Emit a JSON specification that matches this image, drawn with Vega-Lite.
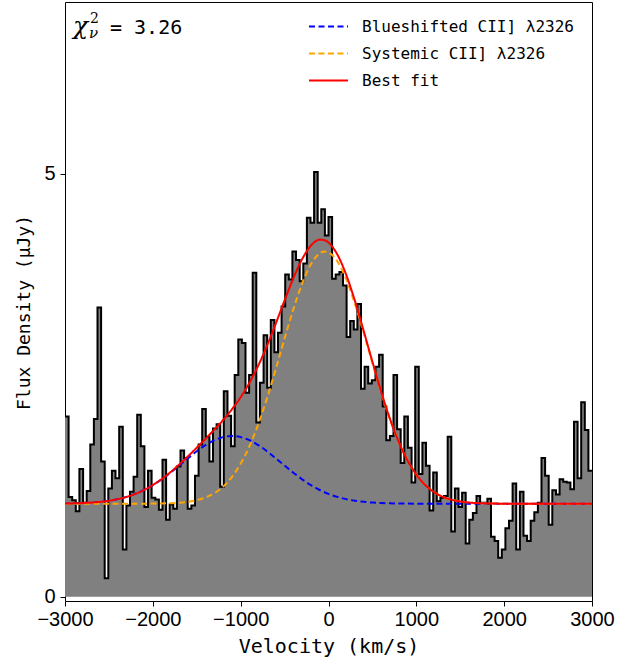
{
  "$schema": "https://vega.github.io/schema/vega-lite/v6.json",
  "width": 527,
  "height": 599,
  "autosize": {"type": "none"},
  "padding": {"left": 65, "top": 2, "right": 51, "bottom": 61},
  "background": "white",
  "config": {
    "view": {"stroke": "black", "strokeWidth": 1},
    "axis": {
      "domain": false, "grid": false, "tickColor": "black", "tickSize": 5, "tickWidth": 1,
      "labelColor": "black", "labelFont": "Liberation Sans", "labelFontSize": 20,
      "titleFont": "DejaVu Sans Mono", "titleFontSize": 20, "titleFontWeight": "normal", "titleColor": "black"
    }
  },
  "datasets": {
    "spec": [
      {"v": -3000, "f": 2.13}, {"v": -2959, "f": 1.18}, {"v": -2918, "f": 1.14}, {"v": -2877, "f": 1.01},
      {"v": -2836, "f": 1.51}, {"v": -2794, "f": 1.11}, {"v": -2753, "f": 1.25}, {"v": -2712, "f": 1.80},
      {"v": -2671, "f": 2.10}, {"v": -2630, "f": 3.42}, {"v": -2589, "f": 1.60}, {"v": -2548, "f": 0.22},
      {"v": -2507, "f": 1.28}, {"v": -2466, "f": 1.49}, {"v": -2425, "f": 1.40}, {"v": -2383, "f": 2.01},
      {"v": -2342, "f": 0.56}, {"v": -2301, "f": 1.08}, {"v": -2260, "f": 1.24}, {"v": -2219, "f": 1.42},
      {"v": -2178, "f": 2.15}, {"v": -2137, "f": 1.78}, {"v": -2096, "f": 1.06}, {"v": -2055, "f": 1.49},
      {"v": -2014, "f": 1.17}, {"v": -1972, "f": 1.15}, {"v": -1931, "f": 1.03}, {"v": -1890, "f": 1.62},
      {"v": -1849, "f": 0.91}, {"v": -1808, "f": 1.09}, {"v": -1767, "f": 1.04}, {"v": -1726, "f": 1.54},
      {"v": -1685, "f": 1.73}, {"v": -1644, "f": 1.64}, {"v": -1603, "f": 1.04}, {"v": -1561, "f": 1.08},
      {"v": -1520, "f": 1.43}, {"v": -1479, "f": 1.80}, {"v": -1438, "f": 2.22}, {"v": -1397, "f": 1.89},
      {"v": -1356, "f": 1.60}, {"v": -1315, "f": 1.99}, {"v": -1274, "f": 2.04}, {"v": -1233, "f": 1.30},
      {"v": -1192, "f": 2.43}, {"v": -1150, "f": 2.14}, {"v": -1109, "f": 1.78}, {"v": -1068, "f": 2.62},
      {"v": -1027, "f": 3.04}, {"v": -986, "f": 3.00}, {"v": -945, "f": 2.41}, {"v": -904, "f": 2.62},
      {"v": -863, "f": 3.83}, {"v": -822, "f": 2.06}, {"v": -781, "f": 2.53}, {"v": -739, "f": 3.09},
      {"v": -698, "f": 2.47}, {"v": -657, "f": 3.27}, {"v": -616, "f": 2.89}, {"v": -575, "f": 3.12},
      {"v": -534, "f": 3.43}, {"v": -493, "f": 3.81}, {"v": -452, "f": 3.75}, {"v": -411, "f": 4.08},
      {"v": -370, "f": 3.98}, {"v": -328, "f": 3.73}, {"v": -287, "f": 3.94}, {"v": -246, "f": 4.48},
      {"v": -205, "f": 4.42}, {"v": -164, "f": 5.02}, {"v": -123, "f": 4.42}, {"v": -82, "f": 4.58},
      {"v": -41, "f": 4.27}, {"v": 0, "f": 4.49}, {"v": 41, "f": 3.76}, {"v": 82, "f": 3.81},
      {"v": 124, "f": 3.84}, {"v": 165, "f": 3.68}, {"v": 206, "f": 3.07}, {"v": 247, "f": 3.26},
      {"v": 288, "f": 3.16}, {"v": 329, "f": 3.46}, {"v": 370, "f": 2.46}, {"v": 411, "f": 2.72},
      {"v": 452, "f": 2.52}, {"v": 493, "f": 2.56}, {"v": 535, "f": 2.72}, {"v": 576, "f": 2.86},
      {"v": 617, "f": 2.25}, {"v": 658, "f": 1.85}, {"v": 699, "f": 1.90}, {"v": 740, "f": 2.62},
      {"v": 781, "f": 1.98}, {"v": 822, "f": 1.58}, {"v": 863, "f": 2.13}, {"v": 904, "f": 1.76},
      {"v": 946, "f": 1.35}, {"v": 987, "f": 2.72}, {"v": 1028, "f": 1.45}, {"v": 1069, "f": 1.82},
      {"v": 1110, "f": 1.55}, {"v": 1151, "f": 1.02}, {"v": 1192, "f": 1.47}, {"v": 1233, "f": 1.13},
      {"v": 1274, "f": 1.17}, {"v": 1315, "f": 1.19}, {"v": 1357, "f": 1.89}, {"v": 1398, "f": 0.77},
      {"v": 1439, "f": 1.28}, {"v": 1480, "f": 1.06}, {"v": 1521, "f": 1.23}, {"v": 1562, "f": 0.63},
      {"v": 1603, "f": 0.91}, {"v": 1644, "f": 0.99}, {"v": 1685, "f": 1.19}, {"v": 1726, "f": 1.11},
      {"v": 1768, "f": 1.11}, {"v": 1809, "f": 1.16}, {"v": 1850, "f": 0.71}, {"v": 1891, "f": 0.66},
      {"v": 1932, "f": 0.46}, {"v": 1973, "f": 0.56}, {"v": 2014, "f": 0.81}, {"v": 2055, "f": 0.90},
      {"v": 2096, "f": 1.34}, {"v": 2137, "f": 0.56}, {"v": 2179, "f": 1.24}, {"v": 2220, "f": 0.72},
      {"v": 2261, "f": 0.66}, {"v": 2302, "f": 0.90}, {"v": 2343, "f": 1.00}, {"v": 2384, "f": 1.11},
      {"v": 2425, "f": 1.64}, {"v": 2466, "f": 1.43}, {"v": 2507, "f": 0.85}, {"v": 2548, "f": 1.26},
      {"v": 2590, "f": 1.21}, {"v": 2631, "f": 1.39}, {"v": 2672, "f": 1.36}, {"v": 2713, "f": 1.35},
      {"v": 2754, "f": 1.27}, {"v": 2795, "f": 2.07}, {"v": 2836, "f": 1.40}, {"v": 2877, "f": 2.30},
      {"v": 2918, "f": 1.97}, {"v": 2959, "f": 1.49}, {"v": 3000, "f": 1.49}
    ],
    "model": [
      {"c": "Blueshifted CII] λ2326", "v": -3000, "f": 1.1025}, {"c": "Blueshifted CII] λ2326", "v": -2900, "f": 1.1046},
      {"c": "Blueshifted CII] λ2326", "v": -2800, "f": 1.108}, {"c": "Blueshifted CII] λ2326", "v": -2700, "f": 1.1135},
      {"c": "Blueshifted CII] λ2326", "v": -2600, "f": 1.1221}, {"c": "Blueshifted CII] λ2326", "v": -2500, "f": 1.1351},
      {"c": "Blueshifted CII] λ2326", "v": -2400, "f": 1.154}, {"c": "Blueshifted CII] λ2326", "v": -2300, "f": 1.1806},
      {"c": "Blueshifted CII] λ2326", "v": -2200, "f": 1.216}, {"c": "Blueshifted CII] λ2326", "v": -2100, "f": 1.262},
      {"c": "Blueshifted CII] λ2326", "v": -2000, "f": 1.32}, {"c": "Blueshifted CII] λ2326", "v": -1900, "f": 1.388},
      {"c": "Blueshifted CII] λ2326", "v": -1800, "f": 1.466}, {"c": "Blueshifted CII] λ2326", "v": -1700, "f": 1.551},
      {"c": "Blueshifted CII] λ2326", "v": -1600, "f": 1.637}, {"c": "Blueshifted CII] λ2326", "v": -1500, "f": 1.72},
      {"c": "Blueshifted CII] λ2326", "v": -1400, "f": 1.793}, {"c": "Blueshifted CII] λ2326", "v": -1300, "f": 1.851},
      {"c": "Blueshifted CII] λ2326", "v": -1200, "f": 1.887}, {"c": "Blueshifted CII] λ2326", "v": -1100, "f": 1.9},
      {"c": "Blueshifted CII] λ2326", "v": -1000, "f": 1.887}, {"c": "Blueshifted CII] λ2326", "v": -900, "f": 1.851},
      {"c": "Blueshifted CII] λ2326", "v": -800, "f": 1.793}, {"c": "Blueshifted CII] λ2326", "v": -700, "f": 1.72},
      {"c": "Blueshifted CII] λ2326", "v": -600, "f": 1.637}, {"c": "Blueshifted CII] λ2326", "v": -500, "f": 1.551},
      {"c": "Blueshifted CII] λ2326", "v": -400, "f": 1.466}, {"c": "Blueshifted CII] λ2326", "v": -300, "f": 1.388},
      {"c": "Blueshifted CII] λ2326", "v": -200, "f": 1.32}, {"c": "Blueshifted CII] λ2326", "v": -100, "f": 1.262},
      {"c": "Blueshifted CII] λ2326", "v": 0, "f": 1.216}, {"c": "Blueshifted CII] λ2326", "v": 100, "f": 1.1806},
      {"c": "Blueshifted CII] λ2326", "v": 200, "f": 1.154}, {"c": "Blueshifted CII] λ2326", "v": 300, "f": 1.1351},
      {"c": "Blueshifted CII] λ2326", "v": 400, "f": 1.1221}, {"c": "Blueshifted CII] λ2326", "v": 500, "f": 1.1135},
      {"c": "Blueshifted CII] λ2326", "v": 600, "f": 1.108}, {"c": "Blueshifted CII] λ2326", "v": 700, "f": 1.1046},
      {"c": "Blueshifted CII] λ2326", "v": 800, "f": 1.1025}, {"c": "Blueshifted CII] λ2326", "v": 900, "f": 1.1014},
      {"c": "Blueshifted CII] λ2326", "v": 1000, "f": 1.1007}, {"c": "Blueshifted CII] λ2326", "v": 1200, "f": 1.1},
      {"c": "Blueshifted CII] λ2326", "v": 1500, "f": 1.1}, {"c": "Blueshifted CII] λ2326", "v": 2000, "f": 1.1},
      {"c": "Blueshifted CII] λ2326", "v": 2500, "f": 1.1}, {"c": "Blueshifted CII] λ2326", "v": 3000, "f": 1.1},

      {"c": "Systemic CII] λ2326", "v": -3000, "f": 1.1}, {"c": "Systemic CII] λ2326", "v": -2500, "f": 1.1},
      {"c": "Systemic CII] λ2326", "v": -2100, "f": 1.1}, {"c": "Systemic CII] λ2326", "v": -2000, "f": 1.1014},
      {"c": "Systemic CII] λ2326", "v": -1900, "f": 1.1029}, {"c": "Systemic CII] λ2326", "v": -1800, "f": 1.1061},
      {"c": "Systemic CII] λ2326", "v": -1700, "f": 1.112}, {"c": "Systemic CII] λ2326", "v": -1600, "f": 1.1229},
      {"c": "Systemic CII] λ2326", "v": -1500, "f": 1.142}, {"c": "Systemic CII] λ2326", "v": -1400, "f": 1.1738},
      {"c": "Systemic CII] λ2326", "v": -1300, "f": 1.2245}, {"c": "Systemic CII] λ2326", "v": -1200, "f": 1.302},
      {"c": "Systemic CII] λ2326", "v": -1100, "f": 1.415}, {"c": "Systemic CII] λ2326", "v": -1000, "f": 1.572},
      {"c": "Systemic CII] λ2326", "v": -900, "f": 1.779}, {"c": "Systemic CII] λ2326", "v": -800, "f": 2.039},
      {"c": "Systemic CII] λ2326", "v": -700, "f": 2.347}, {"c": "Systemic CII] λ2326", "v": -600, "f": 2.692},
      {"c": "Systemic CII] λ2326", "v": -500, "f": 3.052}, {"c": "Systemic CII] λ2326", "v": -400, "f": 3.4},
      {"c": "Systemic CII] λ2326", "v": -300, "f": 3.703}, {"c": "Systemic CII] λ2326", "v": -200, "f": 3.931},
      {"c": "Systemic CII] λ2326", "v": -100, "f": 4.059}, {"c": "Systemic CII] λ2326", "v": -40, "f": 4.08},
      {"c": "Systemic CII] λ2326", "v": 0, "f": 4.07}, {"c": "Systemic CII] λ2326", "v": 100, "f": 3.966},
      {"c": "Systemic CII] λ2326", "v": 200, "f": 3.756}, {"c": "Systemic CII] λ2326", "v": 300, "f": 3.465},
      {"c": "Systemic CII] λ2326", "v": 400, "f": 3.123}, {"c": "Systemic CII] λ2326", "v": 500, "f": 2.763},
      {"c": "Systemic CII] λ2326", "v": 600, "f": 2.414}, {"c": "Systemic CII] λ2326", "v": 700, "f": 2.097},
      {"c": "Systemic CII] λ2326", "v": 800, "f": 1.827}, {"c": "Systemic CII] λ2326", "v": 900, "f": 1.609},
      {"c": "Systemic CII] λ2326", "v": 1000, "f": 1.443}, {"c": "Systemic CII] λ2326", "v": 1100, "f": 1.321},
      {"c": "Systemic CII] λ2326", "v": 1200, "f": 1.238}, {"c": "Systemic CII] λ2326", "v": 1300, "f": 1.182},
      {"c": "Systemic CII] λ2326", "v": 1400, "f": 1.147}, {"c": "Systemic CII] λ2326", "v": 1500, "f": 1.126},
      {"c": "Systemic CII] λ2326", "v": 1600, "f": 1.1137}, {"c": "Systemic CII] λ2326", "v": 1700, "f": 1.107},
      {"c": "Systemic CII] λ2326", "v": 1800, "f": 1.1034}, {"c": "Systemic CII] λ2326", "v": 1900, "f": 1.1016},
      {"c": "Systemic CII] λ2326", "v": 2000, "f": 1.1}, {"c": "Systemic CII] λ2326", "v": 2500, "f": 1.1},
      {"c": "Systemic CII] λ2326", "v": 3000, "f": 1.1},

      {"c": "Best fit", "v": -3000, "f": 1.1025}, {"c": "Best fit", "v": -2900, "f": 1.1046},
      {"c": "Best fit", "v": -2800, "f": 1.108}, {"c": "Best fit", "v": -2700, "f": 1.1135},
      {"c": "Best fit", "v": -2600, "f": 1.1221}, {"c": "Best fit", "v": -2500, "f": 1.1351},
      {"c": "Best fit", "v": -2400, "f": 1.154}, {"c": "Best fit", "v": -2300, "f": 1.1806},
      {"c": "Best fit", "v": -2200, "f": 1.216}, {"c": "Best fit", "v": -2100, "f": 1.262},
      {"c": "Best fit", "v": -2000, "f": 1.3214}, {"c": "Best fit", "v": -1900, "f": 1.3909},
      {"c": "Best fit", "v": -1800, "f": 1.4721}, {"c": "Best fit", "v": -1700, "f": 1.563},
      {"c": "Best fit", "v": -1600, "f": 1.6599}, {"c": "Best fit", "v": -1500, "f": 1.762},
      {"c": "Best fit", "v": -1400, "f": 1.8668}, {"c": "Best fit", "v": -1300, "f": 1.9755},
      {"c": "Best fit", "v": -1200, "f": 2.089}, {"c": "Best fit", "v": -1100, "f": 2.215},
      {"c": "Best fit", "v": -1000, "f": 2.359}, {"c": "Best fit", "v": -900, "f": 2.53},
      {"c": "Best fit", "v": -800, "f": 2.732}, {"c": "Best fit", "v": -700, "f": 2.967},
      {"c": "Best fit", "v": -600, "f": 3.229}, {"c": "Best fit", "v": -500, "f": 3.503},
      {"c": "Best fit", "v": -400, "f": 3.766}, {"c": "Best fit", "v": -300, "f": 3.991},
      {"c": "Best fit", "v": -200, "f": 4.151}, {"c": "Best fit", "v": -100, "f": 4.221},
      {"c": "Best fit", "v": -40, "f": 4.213}, {"c": "Best fit", "v": 0, "f": 4.186},
      {"c": "Best fit", "v": 100, "f": 4.047}, {"c": "Best fit", "v": 200, "f": 3.81},
      {"c": "Best fit", "v": 300, "f": 3.5}, {"c": "Best fit", "v": 400, "f": 3.145},
      {"c": "Best fit", "v": 500, "f": 2.777}, {"c": "Best fit", "v": 600, "f": 2.422},
      {"c": "Best fit", "v": 700, "f": 2.102}, {"c": "Best fit", "v": 800, "f": 1.83},
      {"c": "Best fit", "v": 900, "f": 1.61}, {"c": "Best fit", "v": 1000, "f": 1.444},
      {"c": "Best fit", "v": 1100, "f": 1.321}, {"c": "Best fit", "v": 1200, "f": 1.238},
      {"c": "Best fit", "v": 1300, "f": 1.182}, {"c": "Best fit", "v": 1400, "f": 1.147},
      {"c": "Best fit", "v": 1500, "f": 1.126}, {"c": "Best fit", "v": 1600, "f": 1.1137},
      {"c": "Best fit", "v": 1700, "f": 1.107}, {"c": "Best fit", "v": 1800, "f": 1.1034},
      {"c": "Best fit", "v": 1900, "f": 1.1016}, {"c": "Best fit", "v": 2000, "f": 1.1},
      {"c": "Best fit", "v": 2500, "f": 1.1}, {"c": "Best fit", "v": 3000, "f": 1.1}
    ],
    "ann": [
      {"k": "chi", "t": "χ", "v": -2909, "f": 6.65},
      {"k": "sup", "t": "2", "v": -2909, "f": 6.65},
      {"k": "sub", "t": "ν", "v": -2909, "f": 6.65},
      {"k": "val", "t": "= 3.26", "v": -2909, "f": 6.65}
    ]
  },
  "encoding": {
    "x": {
      "field": "v", "type": "quantitative",
      "scale": {"domain": [-3000, 3000], "nice": false, "zero": false},
      "axis": {"values": [-3000, -2000, -1000, 0, 1000, 2000, 3000], "format": "d", "title": "Velocity (km/s)", "labelPadding": 3, "titlePadding": 7, "labelFlush": false}
    },
    "y": {
      "field": "f", "type": "quantitative",
      "scale": {"domain": [-0.05, 7.03], "nice": false, "zero": false},
      "axis": {"values": [0, 5], "format": "d", "title": "Flux Density (μJy)", "titleFontSize": 18, "titleY": 310, "labelPadding": 5, "titlePadding": 10}
    }
  },
  "layer": [
    {
      "data": {"name": "spec"},
      "mark": {"type": "area", "interpolate": "step-after", "color": "#808080", "clip": true},
      "encoding": {"y2": {"datum": 0}}
    },
    {
      "data": {"name": "spec"},
      "mark": {"type": "line", "interpolate": "step-after", "color": "black", "strokeWidth": 2, "strokeJoin": "miter", "clip": true},
      "encoding": {}
    },
    {
      "data": {"name": "model"},
      "mark": {"type": "line", "interpolate": "monotone", "strokeWidth": 2, "clip": true},
      "encoding": {
        "color": {
          "field": "c", "type": "nominal",
          "scale": {"domain": ["Blueshifted CII] λ2326", "Systemic CII] λ2326", "Best fit"], "range": ["#0000ff", "#ffa500", "#ff0000"]},
          "legend": {"orient": "none", "legendX": 250, "legendY": 11, "title": null, "symbolType": "M-1.56,0H1.56", "symbolSize": 625, "symbolStrokeWidth": 2, "labelFont": "DejaVu Sans Mono", "labelFontSize": 16, "labelColor": "black", "labelOffset": 20, "labelLimit": 400, "rowPadding": 5, "padding": 0}
        },
        "strokeDash": {
          "field": "c", "type": "nominal",
          "scale": {"domain": ["Blueshifted CII] λ2326", "Systemic CII] λ2326", "Best fit"], "range": [[6, 3.5], [6, 3.5], [1, 0]]},
          "legend": {"orient": "none", "legendX": 250, "legendY": 11, "title": null, "symbolType": "M-1.56,0H1.56", "symbolSize": 625, "symbolStrokeWidth": 2, "labelFont": "DejaVu Sans Mono", "labelFontSize": 16, "labelColor": "black", "labelOffset": 20, "labelLimit": 400, "rowPadding": 5, "padding": 0}
        }
      }
    },
    {
      "data": {"name": "ann"},
      "transform": [{"filter": "datum.k === 'chi'"}],
      "mark": {"type": "text", "font": "DejaVu Serif", "fontStyle": "italic", "fontSize": 25, "align": "left", "baseline": "alphabetic", "color": "black"},
      "encoding": {"text": {"field": "t"}}
    },
    {
      "data": {"name": "ann"},
      "transform": [{"filter": "datum.k === 'sup'"}],
      "mark": {"type": "text", "font": "DejaVu Serif", "fontSize": 14, "align": "left", "baseline": "alphabetic", "dx": 17, "dy": -11, "color": "black"},
      "encoding": {"text": {"field": "t"}}
    },
    {
      "data": {"name": "ann"},
      "transform": [{"filter": "datum.k === 'sub'"}],
      "mark": {"type": "text", "font": "DejaVu Serif", "fontStyle": "italic", "fontSize": 15, "align": "left", "baseline": "alphabetic", "dx": 16, "dy": 4, "color": "black"},
      "encoding": {"text": {"field": "t"}}
    },
    {
      "data": {"name": "ann"},
      "transform": [{"filter": "datum.k === 'val'"}],
      "mark": {"type": "text", "font": "DejaVu Sans Mono", "fontSize": 20, "align": "left", "baseline": "alphabetic", "dx": 37, "color": "black"},
      "encoding": {"text": {"field": "t"}}
    }
  ]
}
